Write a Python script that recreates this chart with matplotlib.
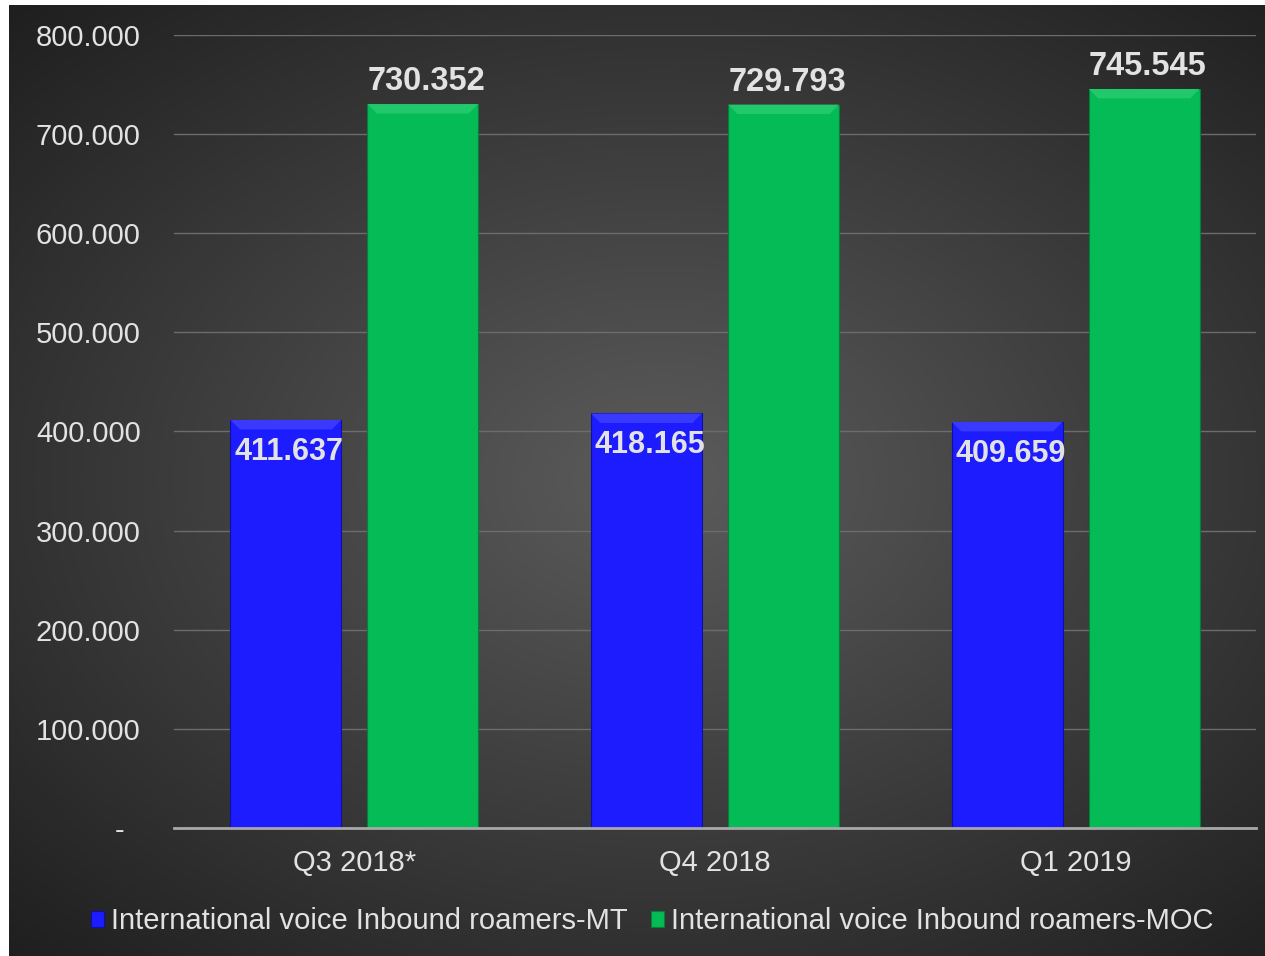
import numpy as np
import matplotlib
matplotlib.use("Agg")
import matplotlib.pyplot as plt
from matplotlib.patches import Polygon
from matplotlib.ticker import FuncFormatter

plt.rcParams['font.family'] = ['Liberation Sans', 'DejaVu Sans']

quarters = ["Q3 2018*", "Q4 2018", "Q1 2019"]
mt_values = [411.637, 418.165, 409.659]
moc_values = [730.352, 729.793, 745.545]
series_names = ["International voice Inbound roamers-MT",
                "International voice Inbound roamers-MOC"]

BLUE, BLUE_TOP = "#1c1cff", "#3a3aff"
GREEN, GREEN_TOP = "#05bb55", "#22c86c"
TEXT = "#e2e2e2"

fig = plt.figure(figsize=(12.65, 9.56), dpi=100)
fig.patch.set_facecolor("white")

# dark panel with a soft radial glow
bg = fig.add_axes([9 / 1265, 0, 1256 / 1265, 951 / 956])
yy, xx = np.mgrid[0:1:400j, 0:1:500j]
r = np.sqrt(((xx - 0.52) / 0.75) ** 2 + ((yy - 0.5) / 0.7) ** 2)
shade = np.clip(0.36 - 0.24 * r, 0.12, 0.36)
bg.imshow(np.dstack([shade] * 3), aspect="auto", extent=[0, 1, 0, 1],
          interpolation="bilinear")
bg.set_axis_off()

ax = fig.add_axes([174 / 1265, 128 / 956, 1082 / 1265, 793 / 956])
ax.set_facecolor("none")

x = np.arange(len(quarters))
width = 0.307
off = 0.19
b1 = ax.bar(x - off, mt_values, width, color=BLUE, edgecolor="#1010a0",
            linewidth=0.8, zorder=3, label=series_names[0])
b2 = ax.bar(x + off, moc_values, width, color=GREEN, edgecolor="#04803a",
            linewidth=0.8, zorder=3, label=series_names[1])

# bevel on the top of each bar
dx, dy = 0.026, 9.5
for bars, top in ((b1, BLUE_TOP), (b2, GREEN_TOP)):
    for b in bars:
        x0, w, h = b.get_x(), b.get_width(), b.get_height()
        ax.add_patch(Polygon([(x0, h), (x0 + w, h), (x0 + w - dx, h - dy),
                              (x0 + dx, h - dy)], closed=True,
                             facecolor=top, edgecolor="none", zorder=4))

for b, v in zip(b1, mt_values):
    ax.text(b.get_x() + b.get_width() / 2 + 0.01, v - 17, f"{v:.3f}",
            ha="center", va="top", fontsize=22, fontweight="bold",
            color=TEXT, zorder=5)
for b, v in zip(b2, moc_values):
    ax.text(b.get_x() + b.get_width() / 2 + 0.01, v + 7, f"{v:.3f}",
            ha="center", va="bottom", fontsize=23.5, fontweight="bold",
            color=TEXT, zorder=5)

ax.set_xlim(-0.5, 2.5)
ax.set_ylim(0, 800)
ax.set_yticks(np.arange(0, 801, 100))
ax.yaxis.set_major_formatter(FuncFormatter(lambda v, p: "-  " if v == 0 else f"{v:.3f}"))
ax.set_xticks(x)
ax.set_xticklabels(quarters)
ax.tick_params(axis="both", length=0, colors=TEXT, labelsize=21)
ax.tick_params(axis="y", pad=24)
ax.tick_params(axis="x", pad=15)
ax.grid(axis="y", color="#6c6c6c", linewidth=1, zorder=0)
for s in ("top", "right", "left"):
    ax.spines[s].set_visible(False)
ax.spines["bottom"].set_color("#a8a8a8")
ax.spines["bottom"].set_linewidth(2)
ax.spines["bottom"].set_zorder(6)

leg = ax.legend(loc="upper center", bbox_to_anchor=(0.442, -0.067), ncol=2,
                frameon=False, fontsize=21, handlelength=0.45, handleheight=0.45,
                handletextpad=0.25, columnspacing=0.8, labelcolor=TEXT)

fig.savefig("out.png", dpi=100)
